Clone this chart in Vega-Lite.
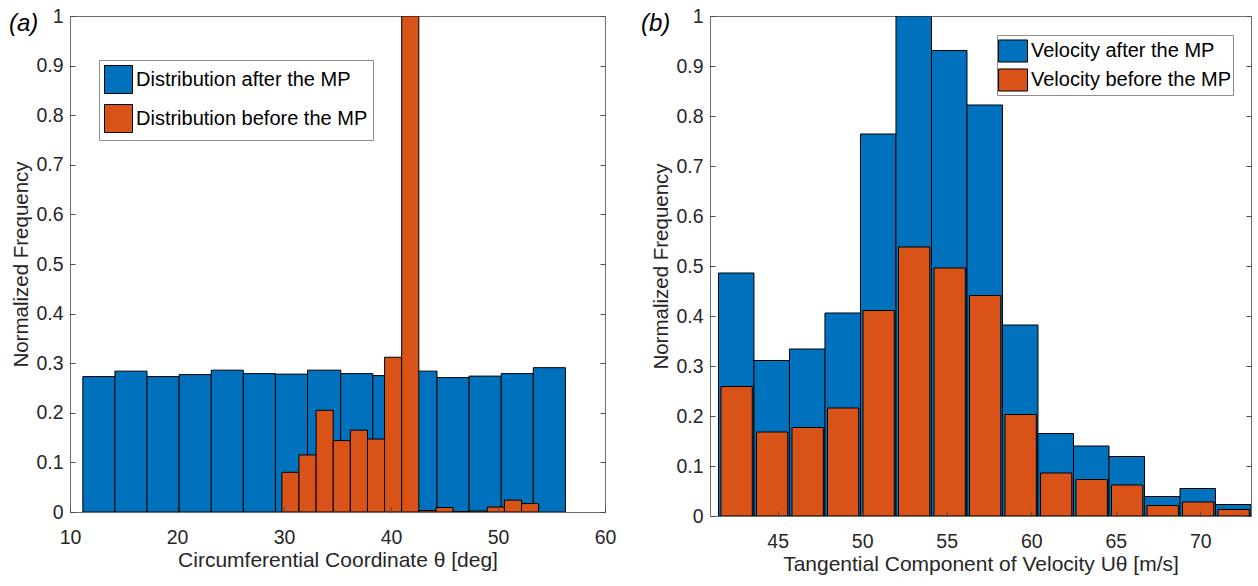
{
  "$schema": "https://vega.github.io/schema/vega-lite/v6.json",
  "background": "white",
  "padding": {"left": 8, "top": 5, "right": 0, "bottom": 0},
  "autosize": {"type": "pad"},
  "spacing": 23,
  "config": {
    "font": "Liberation Sans",
    "view": {"stroke": "#6e6e6e", "strokeWidth": 1},
    "axis": {
      "labelFont": "Liberation Sans", "labelFontSize": 19.5, "labelColor": "#262626",
      "titleFont": "Liberation Sans", "titleFontSize": 21, "titleFontWeight": "normal", "titleColor": "#262626",
      "domain": false, "ticks": true, "tickSize": -5, "tickColor": "#4d4d4d", "tickWidth": 1,
      "grid": true, "gridColor": "#4d4d4d", "gridWidth": 1, "gridOpacity": 1,
      "labelFlush": false, "labelOverlap": false, "zindex": 1
    },
    "axisX": {"labelPadding": 21, "titlePadding": 3},
    "axisY": {"labelPadding": 12, "titlePadding": 4, "titleFontSize": 20.5},
    "legend": {
      "labelFont": "Liberation Sans", "labelFontSize": 20, "labelColor": "#000000",
      "symbolStrokeColor": "#000000", "symbolStrokeWidth": 1, "symbolOpacity": 1,
      "strokeColor": "#8c8c8c", "fillColor": "#ffffff", "labelLimit": 400
    },
    "title": {"font": "Liberation Sans", "fontSize": 24, "fontStyle": "italic", "fontWeight": "normal", "color": "#000000", "anchor": "start", "frame": "group"}
  },
  "datasets": {
    "a": [
      {"series": "Distribution after the MP", "x0": 11.2, "x1": 14.2, "v": 0.273},
      {"series": "Distribution after the MP", "x0": 14.2, "x1": 17.2, "v": 0.284},
      {"series": "Distribution after the MP", "x0": 17.2, "x1": 20.2, "v": 0.273},
      {"series": "Distribution after the MP", "x0": 20.2, "x1": 23.2, "v": 0.277},
      {"series": "Distribution after the MP", "x0": 23.2, "x1": 26.2, "v": 0.286},
      {"series": "Distribution after the MP", "x0": 26.2, "x1": 29.2, "v": 0.279},
      {"series": "Distribution after the MP", "x0": 29.2, "x1": 32.2, "v": 0.278},
      {"series": "Distribution after the MP", "x0": 32.2, "x1": 35.3, "v": 0.286},
      {"series": "Distribution after the MP", "x0": 35.3, "x1": 38.3, "v": 0.279},
      {"series": "Distribution after the MP", "x0": 38.3, "x1": 41.3, "v": 0.275},
      {"series": "Distribution after the MP", "x0": 41.3, "x1": 44.3, "v": 0.284},
      {"series": "Distribution after the MP", "x0": 44.3, "x1": 47.3, "v": 0.271},
      {"series": "Distribution after the MP", "x0": 47.3, "x1": 50.3, "v": 0.274},
      {"series": "Distribution after the MP", "x0": 50.3, "x1": 53.3, "v": 0.279},
      {"series": "Distribution after the MP", "x0": 53.3, "x1": 56.3, "v": 0.291},
      {"series": "Distribution before the MP", "x0": 29.8, "x1": 31.4, "v": 0.08},
      {"series": "Distribution before the MP", "x0": 31.4, "x1": 33.0, "v": 0.115},
      {"series": "Distribution before the MP", "x0": 33.0, "x1": 34.6, "v": 0.205},
      {"series": "Distribution before the MP", "x0": 34.6, "x1": 36.2, "v": 0.144},
      {"series": "Distribution before the MP", "x0": 36.2, "x1": 37.8, "v": 0.165},
      {"series": "Distribution before the MP", "x0": 37.8, "x1": 39.4, "v": 0.147},
      {"series": "Distribution before the MP", "x0": 39.4, "x1": 41.0, "v": 0.312},
      {"series": "Distribution before the MP", "x0": 41.0, "x1": 42.6, "v": 1.0},
      {"series": "Distribution before the MP", "x0": 42.6, "x1": 44.2, "v": 0.003},
      {"series": "Distribution before the MP", "x0": 44.2, "x1": 45.8, "v": 0.009},
      {"series": "Distribution before the MP", "x0": 45.8, "x1": 47.4, "v": 0.001},
      {"series": "Distribution before the MP", "x0": 47.4, "x1": 49.0, "v": 0.002},
      {"series": "Distribution before the MP", "x0": 49.0, "x1": 50.6, "v": 0.01},
      {"series": "Distribution before the MP", "x0": 50.6, "x1": 52.2, "v": 0.024},
      {"series": "Distribution before the MP", "x0": 52.2, "x1": 53.8, "v": 0.017}
    ],
    "b": [
      {"series": "Velocity after the MP", "x0": 41.5, "x1": 43.6, "v": 0.486},
      {"series": "Velocity after the MP", "x0": 43.6, "x1": 45.7, "v": 0.311},
      {"series": "Velocity after the MP", "x0": 45.7, "x1": 47.8, "v": 0.334},
      {"series": "Velocity after the MP", "x0": 47.8, "x1": 49.9, "v": 0.406},
      {"series": "Velocity after the MP", "x0": 49.9, "x1": 52.0, "v": 0.764},
      {"series": "Velocity after the MP", "x0": 52.0, "x1": 54.1, "v": 1.0},
      {"series": "Velocity after the MP", "x0": 54.1, "x1": 56.2, "v": 0.931},
      {"series": "Velocity after the MP", "x0": 56.2, "x1": 58.3, "v": 0.822},
      {"series": "Velocity after the MP", "x0": 58.3, "x1": 60.4, "v": 0.382},
      {"series": "Velocity after the MP", "x0": 60.4, "x1": 62.5, "v": 0.165},
      {"series": "Velocity after the MP", "x0": 62.5, "x1": 64.6, "v": 0.14},
      {"series": "Velocity after the MP", "x0": 64.6, "x1": 66.7, "v": 0.119},
      {"series": "Velocity after the MP", "x0": 66.7, "x1": 68.8, "v": 0.039},
      {"series": "Velocity after the MP", "x0": 68.8, "x1": 70.9, "v": 0.055},
      {"series": "Velocity after the MP", "x0": 70.9, "x1": 73.0, "v": 0.023},
      {"series": "Velocity before the MP", "x0": 41.65, "x1": 43.5, "v": 0.259},
      {"series": "Velocity before the MP", "x0": 43.75, "x1": 45.6, "v": 0.168},
      {"series": "Velocity before the MP", "x0": 45.85, "x1": 47.7, "v": 0.177},
      {"series": "Velocity before the MP", "x0": 47.95, "x1": 49.8, "v": 0.216},
      {"series": "Velocity before the MP", "x0": 50.05, "x1": 51.9, "v": 0.411},
      {"series": "Velocity before the MP", "x0": 52.15, "x1": 54.0, "v": 0.538},
      {"series": "Velocity before the MP", "x0": 54.25, "x1": 56.1, "v": 0.496},
      {"series": "Velocity before the MP", "x0": 56.35, "x1": 58.2, "v": 0.441},
      {"series": "Velocity before the MP", "x0": 58.45, "x1": 60.3, "v": 0.203},
      {"series": "Velocity before the MP", "x0": 60.55, "x1": 62.4, "v": 0.086},
      {"series": "Velocity before the MP", "x0": 62.65, "x1": 64.5, "v": 0.073},
      {"series": "Velocity before the MP", "x0": 64.75, "x1": 66.6, "v": 0.062},
      {"series": "Velocity before the MP", "x0": 66.85, "x1": 68.7, "v": 0.021},
      {"series": "Velocity before the MP", "x0": 68.95, "x1": 70.8, "v": 0.028},
      {"series": "Velocity before the MP", "x0": 71.05, "x1": 72.9, "v": 0.013}
    ]
  },
  "resolve": {"scale": {"color": "independent"}, "legend": {"color": "independent"}},
  "hconcat": [
    {
      "width": 535, "height": 496,
      "title": {"text": "(a)", "dx": -61, "offset": -30},
      "data": {"name": "a"},
      "mark": {"type": "bar", "stroke": "#000000", "strokeWidth": 1, "clip": true, "opacity": 1},
      "encoding": {
        "x": {"field": "x0", "type": "quantitative",
              "scale": {"domain": [10, 60], "nice": false, "zero": false},
              "axis": {"values": [10, 20, 30, 40, 50, 60], "title": "Circumferential Coordinate θ [deg]", "gridDash": [0, 491, 5, 1000], "zindex": 2}},
        "x2": {"field": "x1"},
        "y": {"field": "v", "type": "quantitative", "stack": null,
              "scale": {"domain": [0, 1], "nice": false},
              "axis": {"values": [0, 0.1, 0.2, 0.3, 0.4, 0.5, 0.6, 0.7, 0.8, 0.9, 1], "format": "~g", "title": "Normalized Frequency", "gridDash": [0, 530, 5, 1000], "zindex": 2}},
        "y2": {"datum": 0},
        "color": {"field": "series", "type": "nominal",
                  "scale": {"domain": ["Distribution after the MP", "Distribution before the MP"], "range": ["#0072BD", "#D95319"]},
                  "legend": {"orient": "none", "legendX": 29, "legendY": 44, "title": null, "symbolType": "square", "symbolSize": 784, "labelOffset": 3, "padding": 5, "rowPadding": 6}}
      }
    },
    {
      "width": 541, "height": 500,
      "title": {"text": "(b)", "dx": -69, "offset": -30},
      "data": {"name": "b"},
      "mark": {"type": "bar", "stroke": "#000000", "strokeWidth": 1, "clip": true, "opacity": 1},
      "encoding": {
        "x": {"field": "x0", "type": "quantitative",
              "scale": {"domain": [41, 73], "nice": false, "zero": false},
              "axis": {"values": [45, 50, 55, 60, 65, 70], "title": "Tangential Component of Velocity Uθ [m/s]", "gridDash": [0, 495, 5, 1000], "zindex": 2}},
        "x2": {"field": "x1"},
        "y": {"field": "v", "type": "quantitative", "stack": null,
              "scale": {"domain": [0, 1], "nice": false},
              "axis": {"values": [0, 0.1, 0.2, 0.3, 0.4, 0.5, 0.6, 0.7, 0.8, 0.9, 1], "format": "~g", "title": "Normalized Frequency", "gridDash": [0, 536, 5, 1000], "zindex": 2}},
        "y2": {"datum": 0},
        "color": {"field": "series", "type": "nominal",
                  "scale": {"domain": ["Velocity after the MP", "Velocity before the MP"], "range": ["#0072BD", "#D95319"]},
                  "legend": {"orient": "none", "legendX": 287, "legendY": 19, "title": null, "symbolType": "M-1,-0.76L1,-0.76L1,0.76L-1,0.76Z", "symbolSize": 841, "labelOffset": 3, "padding": 1, "rowPadding": -4}}
      }
    }
  ]
}
